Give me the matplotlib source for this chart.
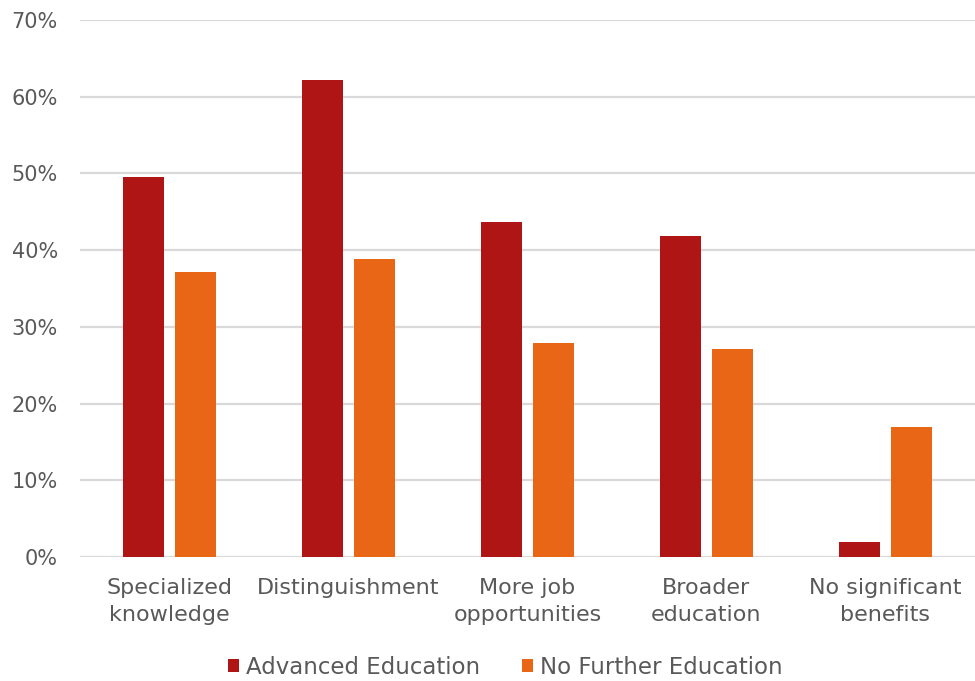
import numpy as np
import matplotlib.pyplot as plt
from matplotlib.ticker import FuncFormatter

categories = ["Specialized\nknowledge", "Distinguishment", "More job\nopportunities",
              "Broader\neducation", "No significant\nbenefits"]
advanced = [49.5, 62.2, 43.7, 41.8, 2.0]
no_further = [37.2, 38.8, 27.9, 27.1, 17.0]

red = "#B01515"
orange = "#E96616"
grey = "#595959"

plt.rcParams['font.family'] = ['DejaVu Sans']

fig = plt.figure(figsize=(9.75, 6.81), dpi=100)
ax = fig.add_axes([80 / 975, 1 - 557 / 681, 895 / 975, 537 / 681])

x = np.arange(len(categories))
w = 0.23
ax.bar(x - 0.144, advanced, w, color=red, label="Advanced Education", zorder=3)
ax.bar(x + 0.144, no_further, w, color=orange, label="No Further Education", zorder=3)

ax.set_xlim(-0.5, 4.5)
ax.set_ylim(0, 70)
ax.set_yticks(np.arange(0, 71, 10))
ax.yaxis.set_major_formatter(FuncFormatter(lambda v, p: f"{v:.0f}%"))
ax.grid(axis='y', color="#D9D9D9", linewidth=1.6, zorder=0)
for s in ax.spines.values():
    s.set_visible(False)
ax.tick_params(length=0, colors=grey)
ax.tick_params(axis='y', pad=16, labelsize=15)
ax.tick_params(axis='x', pad=15, labelsize=16)
ax.set_xticks(x)
ax.set_xticklabels(categories, linespacing=1.45)

ax.legend(loc='center', bbox_to_anchor=(0.475, -0.205), ncol=2, frameon=False,
          fontsize=16.5, labelcolor=grey, handlelength=0.5, handleheight=0.5,
          handletextpad=0.3, columnspacing=1.8, borderpad=0.2)

fig.savefig("out.png", dpi=100)
